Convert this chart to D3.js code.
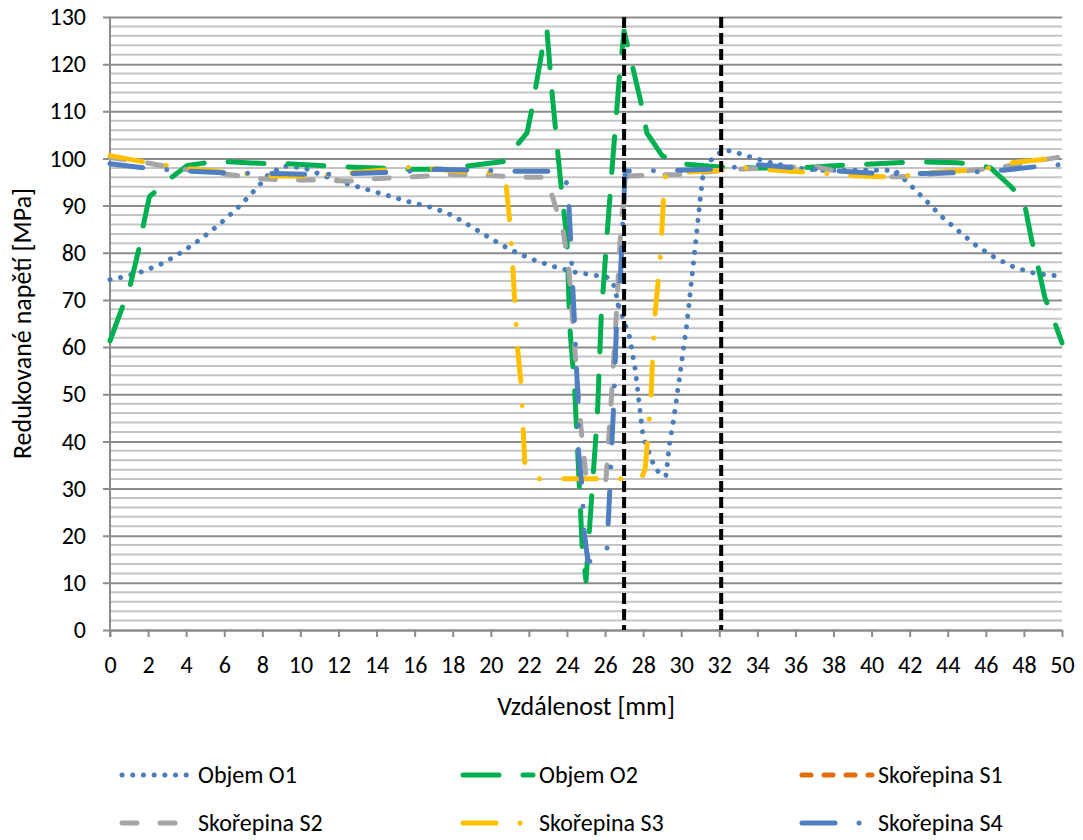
<!DOCTYPE html>
<html>
<head>
<meta charset="utf-8">
<script src="https://cdn.jsdelivr.net/npm/d3@7"></script>
<style>
	body{margin:0;background:#fff;}
	text{font-family:Calibri,Carlito,Lato,sans-serif;fill:#000;}
</style>
</head>
<body>
<svg id="chart" width="1083" height="840"></svg>
<script>
// values, [distance mm, stress MPa]
const objemO1 = [[0,74.3],[0.6,74.8],[1.7,76],[2.8,77.8],[3.8,80.2],[4.8,83],[5.7,85.9],[6.6,89.1],[7.4,92.4],[7.8,94.1],[8.3,96.5],[9.1,98.4],[10.2,98],[11.3,96.2],[12.4,94.7],[13.6,93.3],[14.7,92],[15.8,90.7],[17,89.5],[18,87.9],[19,85.5],[20,83],[21,80.7],[22.1,78.7],[23.2,77.2],[24.4,75.9],[25.5,75.2],[26.1,74.8],[26.5,72.9],[26.7,68.9],[27.3,62],[27.6,54.9],[27.8,47.8],[28,41],[28.6,34.5],[29,32.6],[29.2,32.8],[29.4,39.9],[29.6,44.6],[29.85,51.7],[30.3,65],[30.7,80],[31,91.4],[31.2,98.4],[31.7,100.1],[32.2,101.8],[32.7,101.5],[33.8,100.1],[34.9,98.9],[36,98],[37.2,97.5],[39,97.5],[41.2,97.5],[42,94.5],[42.9,90.9],[43.7,87.6],[44.6,84.5],[45.5,81.5],[46.5,78.9],[47.5,76.9],[48.6,75.6],[50,75]];
const objemO2 = [[0,61.3],[0.7,69],[1.05,72.9],[1.54,81.2],[1.72,85.3],[2.07,91.9],[2.42,93.1],[3.2,95.9],[4.06,98.5],[5.1,99.1],[6.1,99.3],[8.2,98.9],[9.2,98.9],[11.4,98.4],[12.35,98.2],[14.5,97.9],[15.5,97.7],[17.6,97.7],[18.75,98.4],[20.75,99.4],[21.37,102.8],[21.9,105.4],[22.16,110.5],[22.7,123],[22.95,127.2],[23.2,114.6],[23.5,102],[23.7,93.8],[24,82.8],[24.15,64.1],[24.4,51.4],[24.65,30.5],[24.8,17.8],[25,10.4],[25.3,28.4],[25.6,45.7],[25.8,66.5],[26.1,83.5],[26.45,102],[26.75,117.1],[27,127],[27.4,120.3],[27.85,112.5],[28.2,105.4],[29,100.6],[29.86,98.9],[32,98.2],[34,98],[36.3,98],[38.2,98.5],[41.3,99.1],[42.35,99.3],[44.5,99.1],[45.5,98.7],[46.25,98],[47.3,94.1],[48,91],[48.4,82.8],[48.65,78.7],[49.1,70.5],[49.5,66.5],[50,60.9]];
const skorepinaS1 = []; // hidden under the other shells, nothing of it shows
const skorepinaS2 = [[0,100.2],[1.9,99.1],[2.8,98.4],[3.9,97.7],[5.4,97],[6.8,96.3],[7.9,95.7],[8.9,95.5],[10.8,95.4],[12.9,95.2],[13.8,95.7],[15.9,96.1],[17.9,96.6],[18.8,96.6],[19.9,96.4],[21.9,96],[22.85,96],[23.2,92.4],[23.8,84.6],[24.1,76.5],[24.4,60.2],[24.7,44.3],[24.9,36.5],[25,32.6],[26.05,31.9],[26.3,47],[26.6,67.3],[26.8,83.2],[26.9,88.5],[27.2,96.3],[28.9,96.5],[29.86,96.6],[32.9,97.7],[34.5,98],[37,98.3],[37.8,97.6],[40.9,96.1],[41.7,96.1],[42.9,96.6],[45.8,97.7],[46.85,98.2],[50,100.4]];
const skorepinaS3 = [[0,100.6],[2,99.1],[4.2,97.8],[6.3,97],[8.5,96.3],[10.5,96.3],[12.8,97],[14.9,97.7],[15.9,98.2],[17.2,97.7],[19.2,97],[20.2,97],[20.8,94.5],[21,86.4],[21.15,77.2],[21.4,59.9],[21.6,51.7],[21.7,42.5],[21.8,34.2],[22.5,32.1],[27.9,32.1],[28.1,34],[28.4,48.5],[28.6,65.9],[28.9,78.7],[29.07,91.4],[29.15,96.1],[30,97],[32,97.5],[33.3,98],[35,97.5],[37.6,96.8],[38.7,96.4],[40.8,96.1],[41.9,96.4],[43.1,97],[45,97.5],[46.2,98],[47.4,99.1],[49.3,99.9],[50,100.2]];
const skorepinaS4 = [[0,98.9],[2,97.9],[4.2,97.3],[6.3,96.9],[8.6,96.8],[10.7,96.6],[12.8,96.8],[15,97.1],[17.1,97.7],[19.2,97.5],[21.4,97.3],[23.5,97.3],[24,94.7],[24.1,90.2],[24.2,82.1],[24.3,72.9],[24.4,64.8],[24.5,55.6],[24.6,47.1],[24.6,38.3],[24.8,29.8],[24.9,21],[25.1,14.6],[25.5,14.5],[26.1,16.9],[26.25,29.8],[26.45,47.5],[26.6,64.4],[26.8,74.3],[27.06,97.3],[29.8,97.5],[32,97.8],[34,98.7],[36.1,98],[38.4,97.3],[40.5,96.8],[42.7,96.8],[44.8,97],[46.9,97.5],[48.95,98.4],[50,98.7]];
const boundaryLines = [27, 32.1];

const xTickValues = [0,2,4,6,8,10,12,14,16,18,20,22,24,26,28,30,32,34,36,38,40,42,44,46,48,50];
const yTickValues = [0,10,20,30,40,50,60,70,80,90,100,110,120,130];
const xTitle = 'Vzdálenost [mm]';
const yTitle = 'Redukované napětí [MPa]';

class ProfileChart{
	constructor(svg){
		this.svg = svg;
		this.margin = {top:17,right:21,bottom:210,left:110};
	}
	render(series){
		const svg = this.svg;
		const width = +svg.attr('width'), height = +svg.attr('height');
		const m = this.margin;
		const x = d3.scaleLinear().domain([0,50]).range([m.left,width-m.right]);
		const y = d3.scaleLinear().domain([0,130]).range([height-m.bottom,m.top]);

		//minor grid every 2, major grid on the labelled ticks
		svg.append('g')
			.selectAll('line')
			.data(d3.range(0,131,2).filter(v => v%10 != 0))
			.join('line')
				.attr('x1',x(0)).attr('x2',x(50))
				.attr('y1',d => y(d)).attr('y2',d => y(d))
				.attr('stroke','#c4c4c4').attr('stroke-width',2);

		const yAxis = d3.axisLeft(y).tickValues(yTickValues).tickSize(-(x(50)-x(0)));
		svg.append('g')
			.attr('transform',`translate(${x(0)},0)`)
			.call(yAxis)
			.call(g => g.select('.domain').remove())
			.call(g => g.selectAll('.tick line').attr('stroke','#8c8c8c').attr('stroke-width',2).attr('x1',-7))
			.call(g => g.selectAll('.tick text').attr('font-size',24).attr('x',-24));

		const xAxis = d3.axisBottom(x).tickValues(xTickValues).tickSize(7).tickPadding(19).tickSizeOuter(0);
		svg.append('g')
			.attr('transform',`translate(0,${y(0)})`)
			.call(xAxis)
			.call(g => g.select('.domain').attr('stroke','#8c8c8c').attr('stroke-width',2))
			.call(g => g.selectAll('.tick line').attr('stroke','#8c8c8c').attr('stroke-width',2))
			.call(g => g.selectAll('.tick text').attr('font-size',24));

		svg.append('line')
			.attr('x1',x(0)).attr('x2',x(0))
			.attr('y1',y(130)).attr('y2',y(0)+7)
			.attr('stroke','#8c8c8c').attr('stroke-width',2);

		const line = d3.line().x(d => x(d[0])).y(d => y(d[1]));

		svg.append('g')
			.selectAll('path')
			.data(series.filter(s => s.data.length))
			.join('path')
				.attr('d',d => line(d.data))
				.attr('fill','none')
				.attr('stroke',d => d.color)
				.attr('stroke-width',5)
				.attr('stroke-linecap','round')
				.attr('stroke-linejoin','round')
				.attr('stroke-dasharray',d => d.dash);

		svg.append('g')
			.selectAll('line')
			.data(boundaryLines)
			.join('line')
				.attr('x1',d => x(d)).attr('x2',d => x(d))
				.attr('y1',y(130)).attr('y2',y(0))
				.attr('stroke','#000').attr('stroke-width',4)
				.attr('stroke-dasharray','11 5');

		svg.append('text')
			.attr('x',(x(0)+x(50))/2).attr('y',715)
			.attr('text-anchor','middle').attr('font-size',26)
			.text(xTitle);
		svg.append('text')
			.attr('transform',`translate(31,${(y(0)+y(130))/2}) rotate(-90)`)
			.attr('text-anchor','middle').attr('font-size',26)
			.text(yTitle);

		//legend, three columns two rows
		const cols = [120,461,800];
		const rows = [775,823];
		const item = svg.append('g')
			.selectAll('g')
			.data(series)
			.join('g')
				.attr('transform',(d,i) => `translate(${cols[i%3]},${rows[Math.floor(i/3)]})`);
		item.append('line')
			.attr('x1',2).attr('x2',72)
			.attr('stroke',d => d.color)
			.attr('stroke-width',5)
			.attr('stroke-linecap','round')
			.attr('stroke-dasharray',d => d.dash);
		item.append('text')
			.attr('x',78).attr('dy','0.35em')
			.attr('font-size',24)
			.text(d => d.name);
	}
}

const series = [
	{name:'Objem O1',data:objemO1,color:'#4a7ebb',dash:'0.1 10.6'},
	{name:'Objem O2',data:objemO2,color:'#00b050',dash:'36 24'},
	{name:'Skořepina S1',data:skorepinaS1,color:'#e46c0a',dash:'9 13'},
	{name:'Skořepina S2',data:skorepinaS2,color:'#a5a5a5',dash:'15 23'},
	{name:'Skořepina S3',data:skorepinaS3,color:'#ffc000',dash:'33 24 0.1 24'},
	{name:'Skořepina S4',data:skorepinaS4,color:'#4f7fc0',dash:'33 24 0.1 24'}
];

new ProfileChart(d3.select('#chart')).render(series);
</script>
</body>
</html>
